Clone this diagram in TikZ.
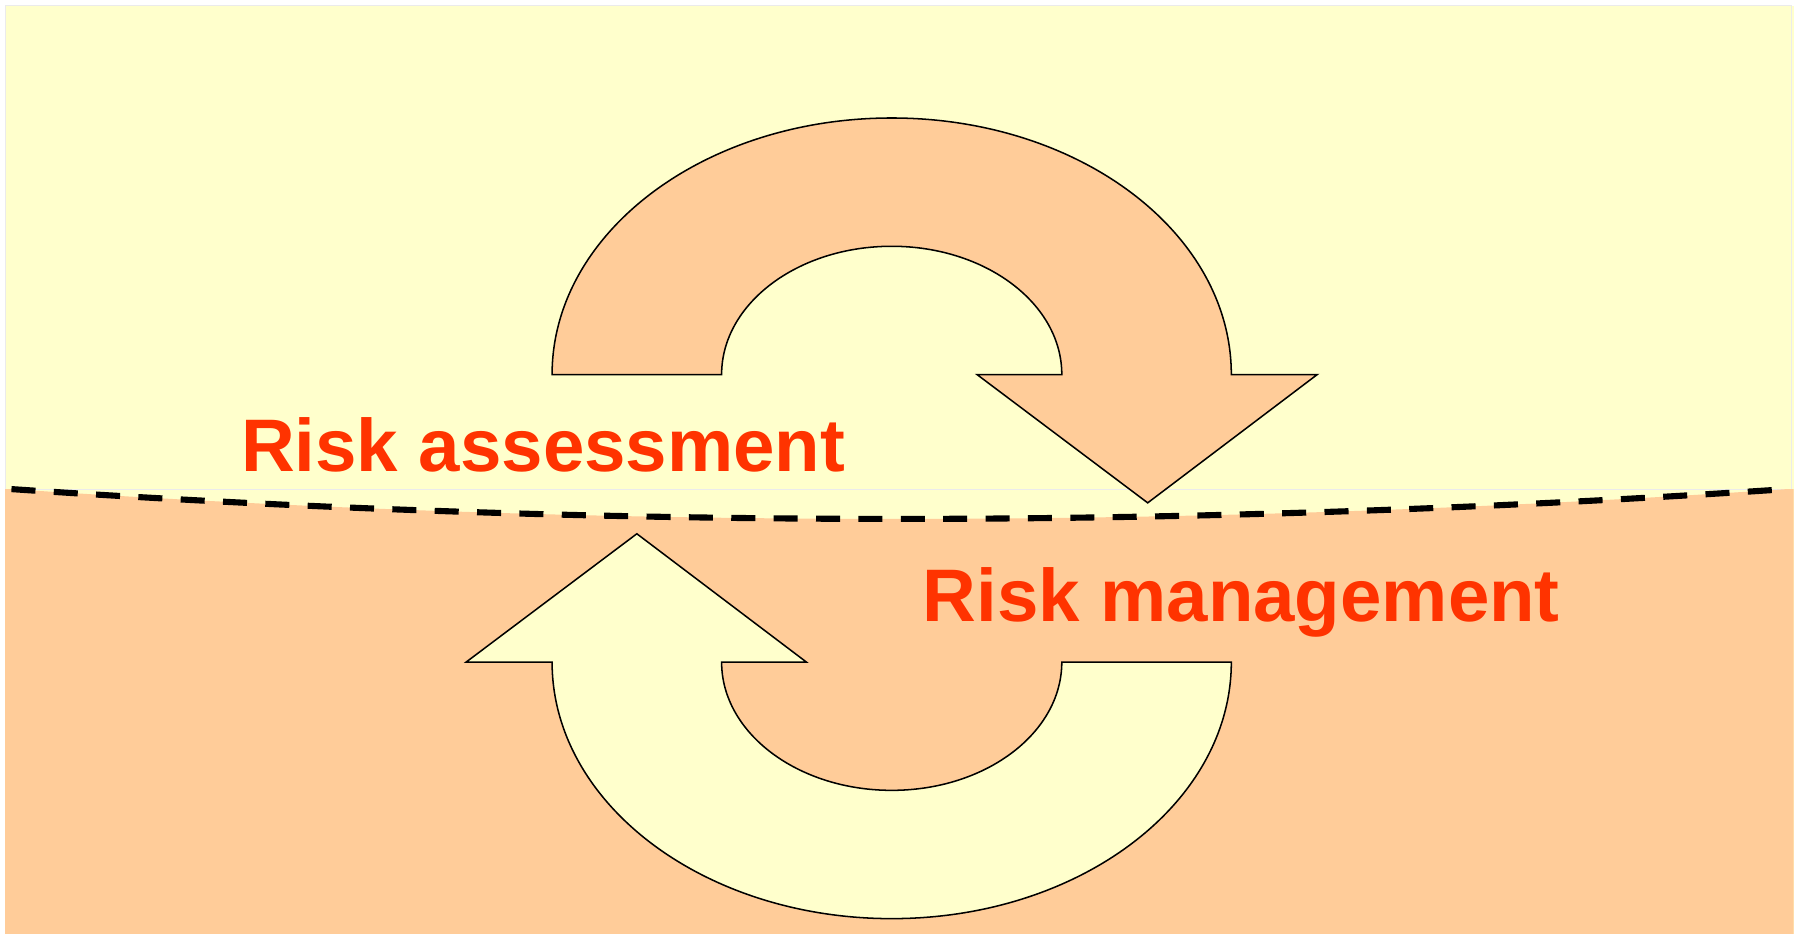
\documentclass[tikz,border=0pt]{standalone}
\usepackage{fontspec}
\setmainfont{Liberation Sans}
\definecolor{paleyellow}{HTML}{FFFFCC}
\definecolor{paleorange}{HTML}{FFCC99}
\definecolor{riskred}{HTML}{FF3300}
\tikzset{
	risk label/.style={anchor=base west, inner sep=0pt, text=riskred, font=\bfseries\fontsize{48.75}{58}\selectfont},
	cycle arrow/.style={draw=black, line width=1pt, line join=miter}}
\tikzset{every picture/.style={line width=0.75pt}}

\begin{document}
\begin{tikzpicture}[x=0.75pt,y=0.75pt,yscale=-1,xscale=1]
	\useasboundingbox (0,0) rectangle (1568,815.4);

	%Shape: Background 
	\fill [paleyellow] (4.5,5) rectangle (1566,815.4) ;
	%Shape: Rectangle [id:upper area] 
	\draw [draw=black!8] (4.5,5) rectangle (1564,427) ;
	%Shape: Lower area 
	\fill [paleorange] (4.5,427) -- (10,427) .. controls (523.3,461.7) and (1040,461.7) .. (1560,427) -- (1566,427) -- (1566,815.4) -- (4.5,815.4) -- cycle ;
	%Curve Lines [id:border line] 
	\draw [line width=4pt, dash pattern={on 15.75pt off 12pt}]  (10,427) .. controls (523.3,461.7) and (1040,461.7) .. (1560,427) ;

	%Shape: Upper arrow 
	\draw [cycle arrow, fill=paleorange] (482,327) arc [start angle=180, end angle=360, x radius=296.5, y radius=224] -- (1150,327) -- (1002,439) -- (853,327) -- (927,327) arc [start angle=360, end angle=180, x radius=148.5, y radius=112] -- cycle ;
	%Shape: Lower arrow 
	\draw [cycle arrow, fill=paleyellow] (1075,578) arc [start angle=0, end angle=180, x radius=296.5, y radius=224] -- (407,578) -- (556,466) -- (704,578) -- (630,578) arc [start angle=180, end angle=0, x radius=148.5, y radius=112] -- cycle ;

	% Text Node
	\draw (210,412) node (assess) [risk label] {Risk assessment};
	% Text Node
	\draw (805,543) node (manage) [risk label] {Risk management};

\end{tikzpicture}
\end{document}
